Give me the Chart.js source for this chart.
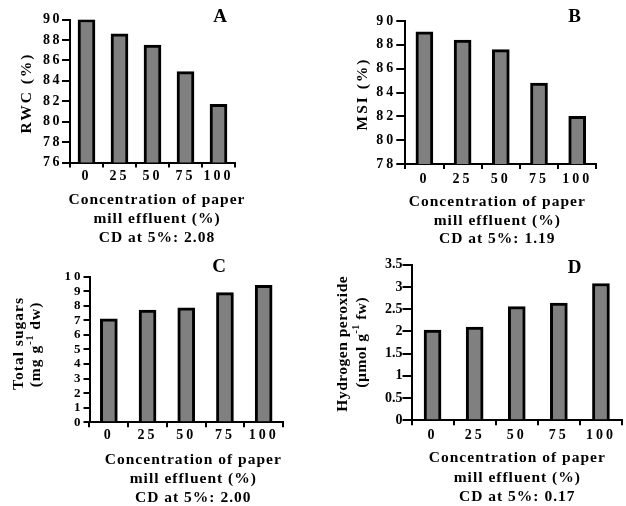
<!DOCTYPE html>
<html><head><meta charset="utf-8">
<script src="https://cdn.jsdelivr.net/npm/chart.js@4/dist/chart.umd.min.js"></script>
<style>
html,body{margin:0;padding:0;background:#fff;}
body{width:626px;height:506px;position:relative;overflow:hidden;}
canvas{position:absolute;}
</style></head><body>
<canvas id="cA" width="313" height="250" style="left:0;top:0"></canvas>
<canvas id="cB" width="313" height="250" style="left:313px;top:0"></canvas>
<canvas id="cC" width="313" height="256" style="left:0;top:250px"></canvas>
<canvas id="cD" width="313" height="256" style="left:313px;top:250px"></canvas>
<script>
const categories = ['0', '25', '50', '75', '100'];
const rwcValues = [90.0, 88.6, 87.5, 84.9, 81.7];
const msiValues = [89.1, 88.4, 87.6, 84.8, 82.0];
const sugarValues = [7.1, 7.7, 7.85, 8.9, 9.4];
const peroxideValues = [2.03, 2.1, 2.56, 2.64, 3.08];
const rwcTicks = [76, 78, 80, 82, 84, 86, 88, 90];
const msiTicks = [78, 80, 82, 84, 86, 88, 90];
const sugarTicks = [0, 1, 2, 3, 4, 5, 6, 7, 8, 9, 10];
const peroxideTicks = [0, 0.5, 1, 1.5, 2, 2.5, 3, 3.5];
const xTitleLines = ['Concentration of paper', 'mill effluent (%)'];
const cdLabels = ['CD at 5%: 2.08', 'CD at 5%: 1.19', 'CD at 5%: 2.00', 'CD at 5%: 0.17'];
const panelLabels = ['A', 'B', 'C', 'D'];
const yTitleA = [[{t: 'RWC (%)'}]];
const yTitleB = [[{t: 'MSI (%)'}]];
const yTitleC = [[{t: 'Total sugars'}], [{t: '(mg g'}, {t: '-1', sup: true}, {t: ' dw)'}]];
const yTitleD = [[{t: 'Hydrogen peroxide'}], [{t: '(\u00b5mol g'}, {t: '-1', sup: true}, {t: ' fw)'}]];

const SERIF = '"Liberation Serif", "Times New Roman", Times, serif';

function drawRich(ctx, segs, cx, cy, rot, spacing, size) {
  ctx.save();
  ctx.translate(cx, cy);
  ctx.rotate(rot);
  ctx.letterSpacing = spacing + 'px';
  ctx.fillStyle = '#000';
  ctx.textBaseline = 'middle';
  ctx.textAlign = 'left';
  const mainFont = 'bold ' + size + 'px ' + SERIF;
  const supFont = 'bold ' + Math.round(size * 0.62) + 'px ' + SERIF;
  let total = 0;
  const widths = segs.map(s => {
    ctx.font = s.sup ? supFont : mainFont;
    const w = ctx.measureText(s.t).width;
    total += w;
    return w;
  });
  let x = -total / 2 + spacing / 2;
  segs.forEach((s, i) => {
    ctx.font = s.sup ? supFont : mainFont;
    ctx.fillText(s.t, x, s.sup ? -size * 0.33 : 0);
    x += widths[i];
  });
  ctx.restore();
}

function makePanel(id, W, H, area, values, ticks, cfg) {
  const textPlugin = {
    id: 'panelText' + id,
    beforeDraw(chart) { chart.ctx.letterSpacing = cfg.ySpacing + 'px'; },
    afterDatasetsDraw(chart) { chart.ctx.letterSpacing = cfg.xSpacing + 'px'; },
    afterDraw(chart) {
      const ctx = chart.ctx;
      ctx.letterSpacing = '0px';
      drawRich(ctx, [{t: cfg.label}], cfg.labelPos[0], cfg.labelPos[1], 0, 0, 19);
      cfg.yTitle.forEach((line, i) => {
        drawRich(ctx, line, cfg.yTitlePos[i][0], cfg.yTitlePos[i][1], -Math.PI / 2, cfg.yTitleSpacing, 15.5);
      });
      const lines = xTitleLines.concat([cfg.cd]);
      lines.forEach((txt, i) => {
        drawRich(ctx, [{t: txt}], cfg.xCenter, cfg.xYs[i], 0, 1, 15.5);
      });
    }
  };
  return new Chart(document.getElementById(id), {
    type: 'bar',
    data: {
      labels: categories,
      datasets: [{
        data: values,
        backgroundColor: '#808080',
        borderColor: '#000000',
        borderWidth: 3,
        barThickness: 17,
        borderSkipped: 'start'
      }]
    },
    options: {
      responsive: false,
      animation: false,
      devicePixelRatio: 1,
      layout: {padding: {left: 0, top: area.top, right: W - area.right, bottom: 0}},
      plugins: {legend: {display: false}, tooltip: {enabled: false}, title: {display: false}},
      scales: {
        x: {
          offset: true,
          grid: {offset: true, drawOnChartArea: false, drawTicks: true, tickLength: 5, color: '#000', lineWidth: 2},
          border: {display: true, color: '#000', width: 2},
          ticks: {
            z: 1, color: '#000', padding: cfg.xPad, autoSkip: false, maxRotation: 0,
            font: {family: SERIF, size: 14, weight: 'bold'}
          },
          afterFit(scale) {
            scale.height = H - area.bottom;
            scale.paddingLeft = 0; scale.paddingRight = 0;
            scale.paddingTop = 0; scale.paddingBottom = 0;
          }
        },
        y: {
          min: ticks[0],
          max: ticks[ticks.length - 1],
          afterBuildTicks(scale) { scale.ticks = ticks.map(v => ({value: v})); },
          grid: {drawOnChartArea: false, drawTicks: true, tickLength: cfg.yTickLen, color: '#000', lineWidth: 2},
          border: {display: true, color: '#000', width: 2},
          ticks: {
            color: '#000', padding: 0, autoSkip: false,
            callback: (v) => String(v),
            font: {family: SERIF, size: cfg.ySize, weight: 'bold'}
          },
          afterFit(scale) {
            scale.width = area.left;
            scale.paddingLeft = 0; scale.paddingRight = 0;
            scale.paddingTop = 0; scale.paddingBottom = 0;
          }
        }
      }
    },
    plugins: [textPlugin]
  });
}

makePanel('cA', 313, 250, {left: 70, right: 235, top: 19.5, bottom: 162.5}, rwcValues, rwcTicks, {
  label: panelLabels[0], labelPos: [220, 17.5],
  yTitle: yTitleA, yTitlePos: [[27.3, 94]], yTitleSpacing: 2,
  xCenter: 156.5, xYs: [200, 219, 238], cd: cdLabels[0],
  ySpacing: 2.5, xSpacing: 3, yTickLen: 8, xPad: 0, ySize: 14
});
makePanel('cB', 313, 250, {left: 92.3, right: 283.3, top: 21, bottom: 164}, msiValues, msiTicks, {
  label: panelLabels[1], labelPos: [261.7, 17],
  yTitle: yTitleB, yTitlePos: [[50, 95]], yTitleSpacing: 2,
  xCenter: 183.8, xYs: [201.7, 220.7, 239.3], cd: cdLabels[1],
  ySpacing: 3, xSpacing: 3, yTickLen: 9, xPad: 2, ySize: 14
});
makePanel('cC', 313, 256, {left: 89.5, right: 283, top: 26.6, bottom: 172.3}, sugarValues, sugarTicks, {
  label: panelLabels[2], labelPos: [219, 17.5],
  yTitle: yTitleC, yTitlePos: [[19, 94], [35.5, 95]], yTitleSpacing: 1,
  xCenter: 192.8, xYs: [210, 229.3, 248.3], cd: cdLabels[2],
  ySpacing: 3, xSpacing: 3, yTickLen: 6, xPad: 0, ySize: 13
});
makePanel('cD', 313, 256, {left: 98.5, right: 309, top: 14.8, bottom: 170.3}, peroxideValues, peroxideTicks, {
  label: panelLabels[3], labelPos: [261.7, 18.5],
  yTitle: yTitleD, yTitlePos: [[29.5, 94], [49, 92.5]], yTitleSpacing: 0.5,
  xCenter: 203.8, xYs: [208.3, 227.7, 246.7], cd: cdLabels[3],
  ySpacing: 0, xSpacing: 3, yTickLen: 9, xPad: 2, ySize: 14
});
</script>
</body></html>
